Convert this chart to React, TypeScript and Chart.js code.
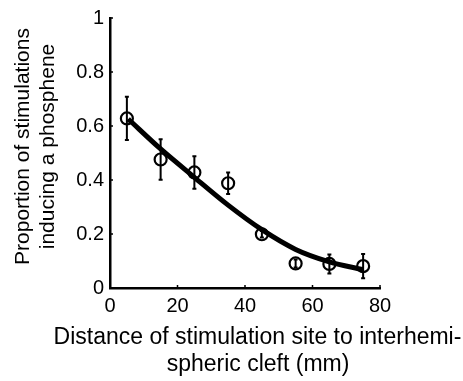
import React, { useEffect, useRef } from "react";
import { Chart, registerables } from "chart.js";

Chart.register(...registerables);

const distances = [5, 15, 25, 35, 45, 55, 65, 75];
const proportions = [0.628, 0.476, 0.428, 0.388, 0.199, 0.091, 0.089, 0.081];
const errors = [0.08, 0.075, 0.06, 0.04, 0.012, 0.015, 0.035, 0.045];

const fitX = [5.4, 15, 25, 35, 45, 55, 65, 75];
const fitY = [0.626, 0.515, 0.41, 0.307, 0.216, 0.143, 0.097, 0.068];

const xTicks = [0, 20, 40, 60, 80];
const yTicks = [0, 0.2, 0.4, 0.6, 0.8, 1];

const xTitle = ["Distance of stimulation site to interhemi-", "spheric cleft (mm)"];
const yTitle = ["Proportion of stimulations", "inducing a phosphene"];

const FONT = "'Liberation Sans', Arial, sans-serif";

const errorBarPlugin = {
  id: "errorBars",
  afterDatasetsDraw(chart: any) {
    const { ctx, scales } = chart;
    const xs = scales.x;
    const ys = scales.y;
    ctx.save();
    ctx.strokeStyle = "#000";
    ctx.lineWidth = 2;
    for (let i = 0; i < distances.length; i++) {
      const px = xs.getPixelForValue(distances[i]);
      const top = ys.getPixelForValue(proportions[i] + errors[i]);
      const bot = ys.getPixelForValue(proportions[i] - errors[i]);
      ctx.beginPath();
      ctx.moveTo(px, top);
      ctx.lineTo(px, bot);
      ctx.moveTo(px - 2, top);
      ctx.lineTo(px + 2, top);
      ctx.moveTo(px - 2, bot);
      ctx.lineTo(px + 2, bot);
      ctx.stroke();
    }
    // inner tick marks
    const area = chart.chartArea;
    ctx.lineWidth = 1.5;
    ctx.beginPath();
    for (const t of xTicks) {
      const px = xs.getPixelForValue(t);
      ctx.moveTo(px, area.bottom);
      ctx.lineTo(px, area.bottom - 3);
    }
    for (const t of yTicks) {
      const py = ys.getPixelForValue(t);
      ctx.moveTo(area.left, py);
      ctx.lineTo(area.left + 3, py);
    }
    ctx.stroke();
    ctx.restore();
  },
};

const titlePlugin = {
  id: "axisTitles",
  afterDraw(chart: any) {
    const { ctx } = chart;
    ctx.save();
    ctx.fillStyle = "#000";
    ctx.textAlign = "center";
    ctx.textBaseline = "alphabetic";
    // x title
    ctx.font = `23px ${FONT}`;
    ctx.fillText(xTitle[0], 257.5, 344.3);
    ctx.fillText(xTitle[1], 258, 370.7);
    // y title
    ctx.font = `21px ${FONT}`;
    const ys = [28.5, 53.5];
    for (let i = 0; i < yTitle.length; i++) {
      ctx.save();
      ctx.translate(ys[i], 146.5);
      ctx.rotate(-Math.PI / 2);
      ctx.fillText(yTitle[i], 0, 0);
      ctx.restore();
    }
    ctx.restore();
  },
};

export default function App() {
  const ref = useRef<HTMLCanvasElement | null>(null);

  useEffect(() => {
    if (!ref.current) return;
    const chart = new Chart(ref.current, {
      type: "scatter",
      data: {
        datasets: [
          {
            label: "Data",
            data: distances.map((d, i) => ({ x: d, y: proportions[i] })),
            pointRadius: 6,
            pointHoverRadius: 6,
            pointBorderWidth: 2.2,
            pointBorderColor: "#000",
            pointBackgroundColor: "rgba(0,0,0,0)",
            showLine: false,
            order: 0,
          },
          {
            label: "Fit",
            type: "line",
            data: fitX.map((d, i) => ({ x: d, y: fitY[i] })),
            borderColor: "#000",
            borderWidth: 5,
            pointRadius: 0,
            cubicInterpolationMode: "monotone",
            fill: false,
            order: 1,
          } as any,
        ],
      },
      options: {
        animation: false,
        responsive: false,
        maintainAspectRatio: false,
        layout: { padding: { top: 18, right: 83, left: 0, bottom: 0 } },
        plugins: {
          legend: { display: false },
          tooltip: { enabled: false },
        },
        scales: {
          x: {
            type: "linear",
            min: 0,
            max: 80,
            afterBuildTicks: (s: any) => {
              s.ticks = xTicks.map((v) => ({ value: v }));
            },
            afterFit: (s: any) => {
              s.height = 93;
            },
            grid: { display: false, drawTicks: false },
            border: { display: true, color: "#000", width: 2.5 },
            ticks: {
              color: "#000",
              padding: 6.5,
              font: { family: FONT, size: 20 },
              callback: (v: any) => String(v),
            },
          },
          y: {
            type: "linear",
            min: 0,
            max: 1,
            afterBuildTicks: (s: any) => {
              s.ticks = yTicks.map((v) => ({ value: v }));
            },
            afterFit: (s: any) => {
              s.width = 110;
            },
            grid: { display: false, drawTicks: false },
            border: { display: true, color: "#000", width: 2.5 },
            ticks: {
              color: "#000",
              padding: 6,
              font: { family: FONT, size: 20 },
              callback: (v: any) => String(Math.round(v * 10) / 10),
            },
          },
        },
      },
      plugins: [errorBarPlugin, titlePlugin],
    });
    return () => chart.destroy();
  }, []);

  return (
    <div style={{ position: "fixed", left: 0, top: 0, width: 463, height: 381, background: "#fff" }}>
      <canvas ref={ref} width={463} height={381} style={{ width: 463, height: 381 }} />
    </div>
  );
}
